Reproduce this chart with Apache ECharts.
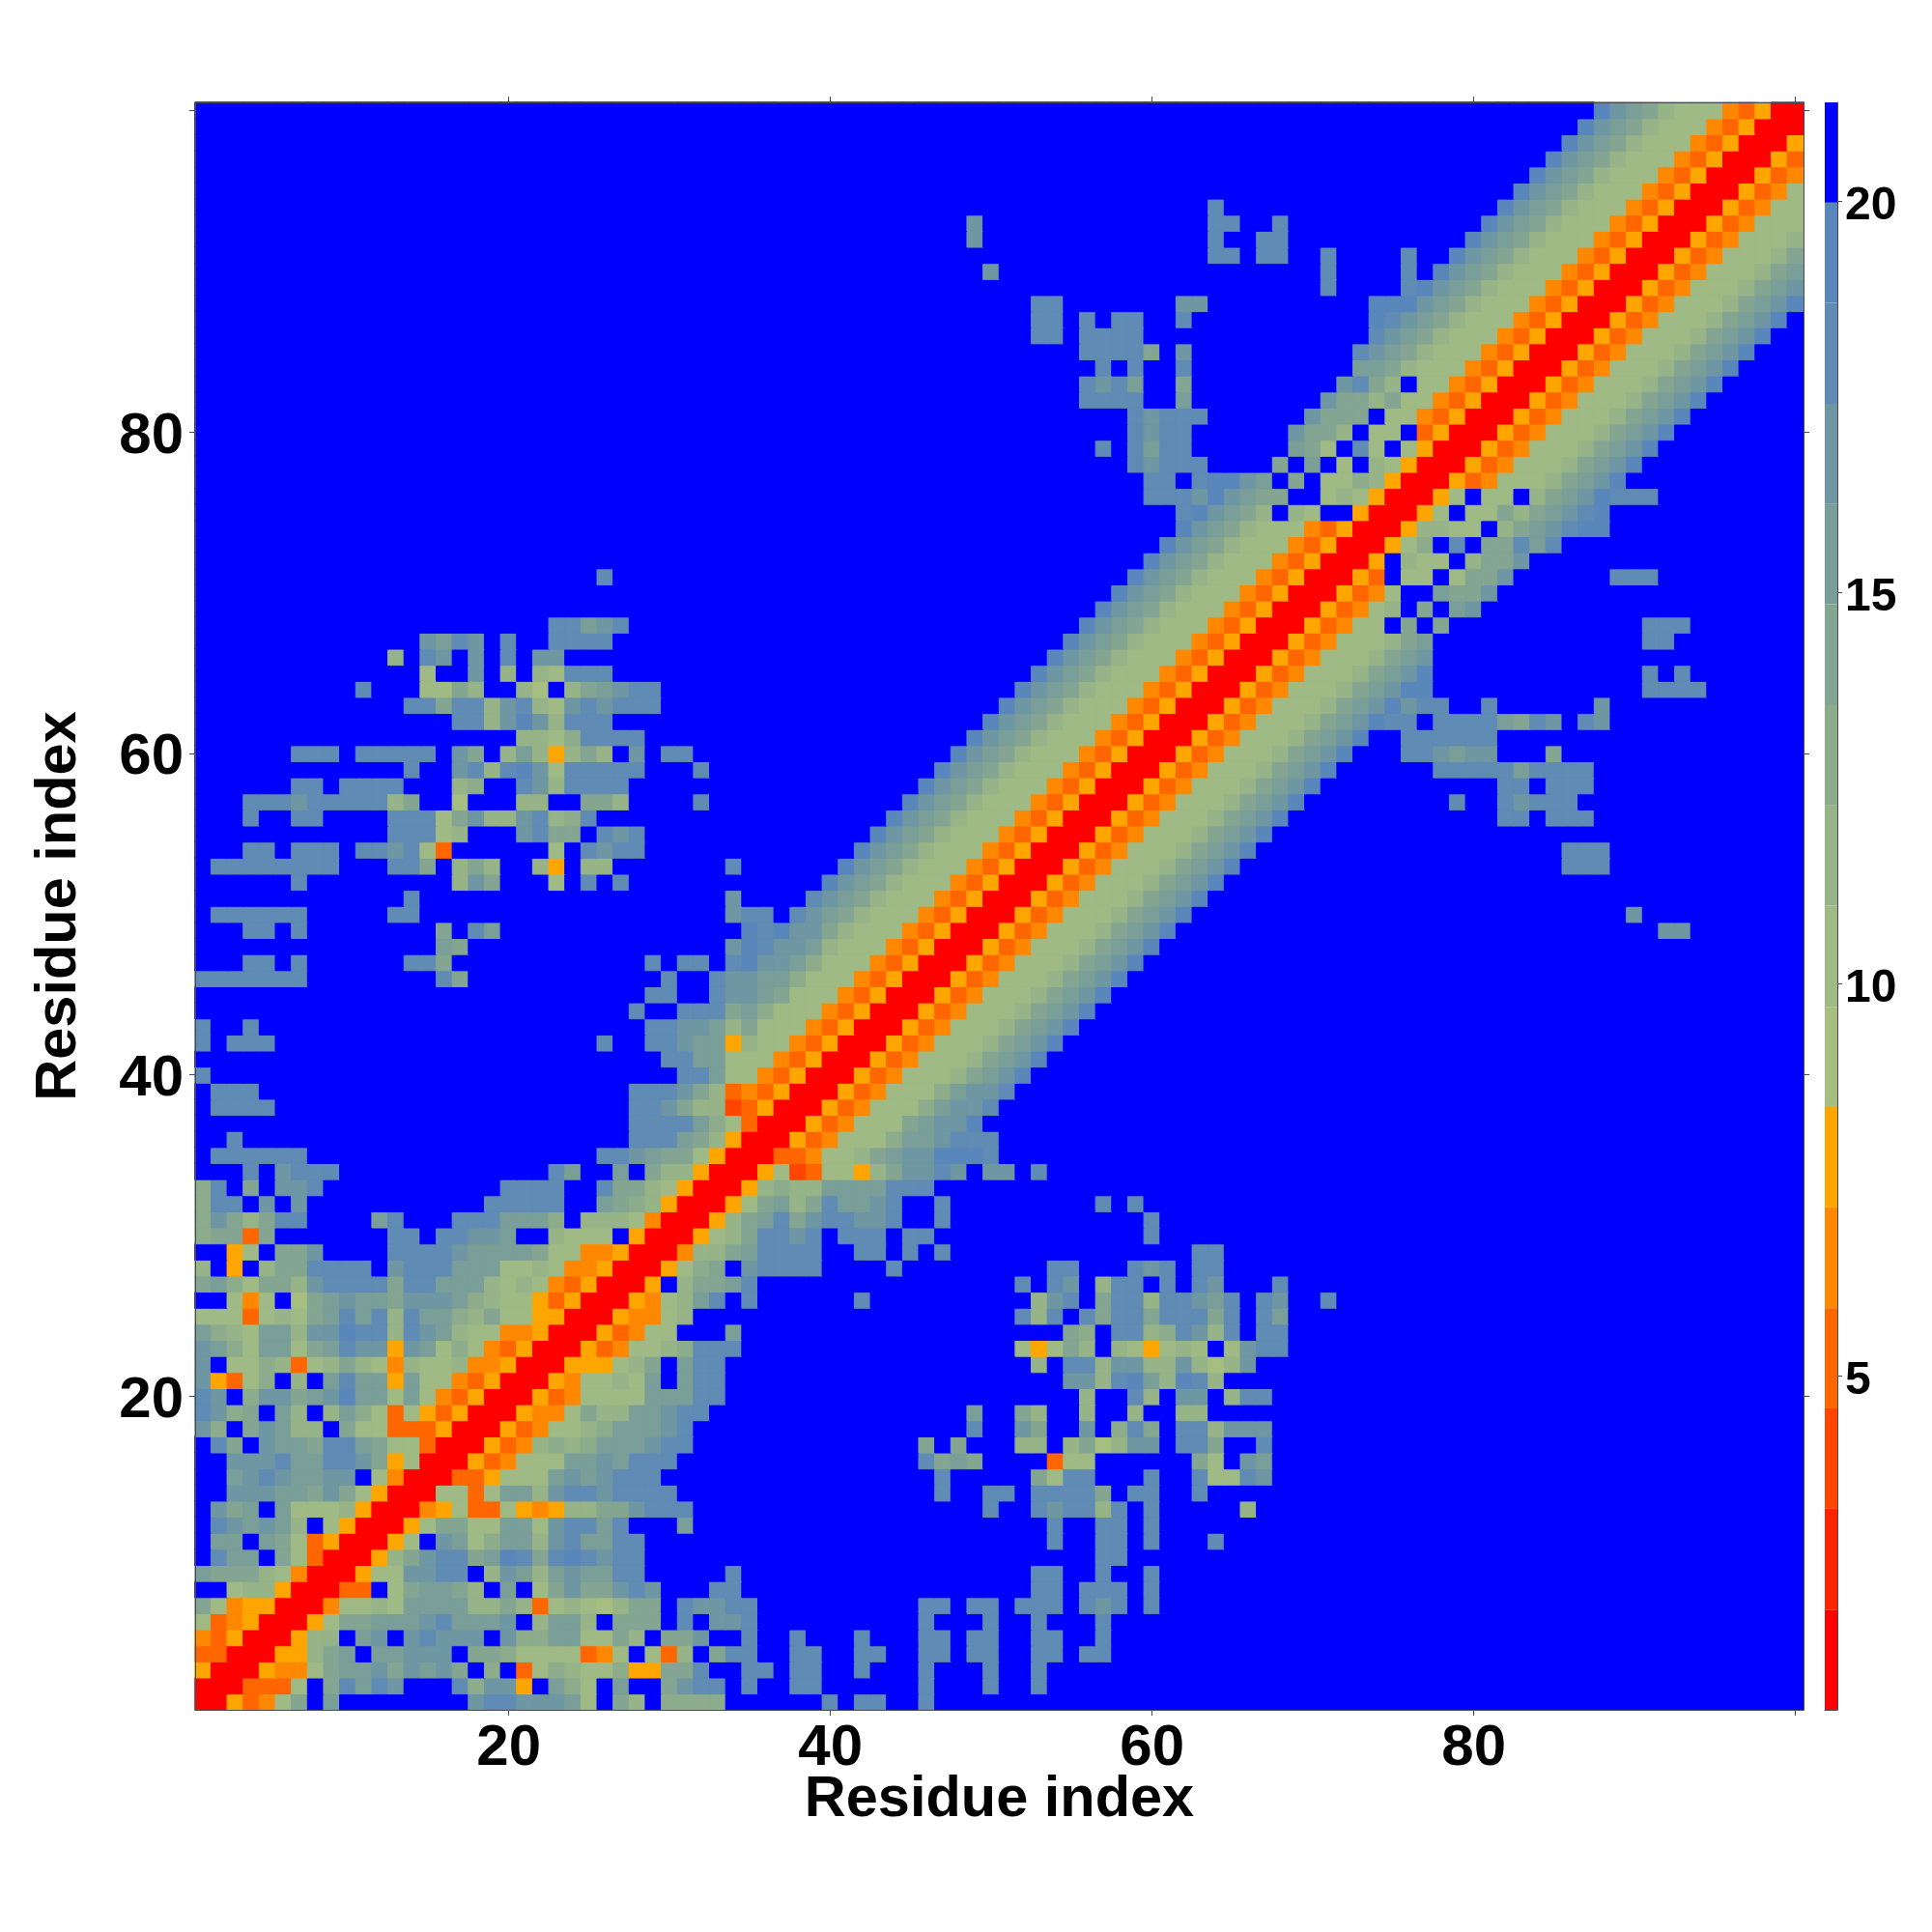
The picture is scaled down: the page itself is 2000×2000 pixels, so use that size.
<!DOCTYPE html>
<html>
<head>
<meta charset="utf-8">
<style>html,body{margin:0;padding:0;background:#fff}#c{width:2000px;height:2000px}</style>
<script src="https://cdn.jsdelivr.net/npm/echarts@6/dist/echarts.min.js"></script>
</head>
<body>
<div id="c"></div>
<script>
// Residue indices on both axes
const residues = Array.from({length: 100}, (_, i) => String(i + 1));
const tickResidues = [20, 40, 60, 80, 100];
const labelResidues = [20, 40, 60, 80];
const barTicks = [5, 10, 15, 20];

// Colour bar: 16 bands, from the bottom
const bandEdges = [0.73, 2.01, 3.30, 4.58, 5.86, 7.15, 8.43, 9.71, 11.0, 12.28, 13.56, 14.85, 16.13, 17.41, 18.70, 19.98, 21.26];
const bandColors = ['#ff0000', '#ff2400', '#ff4500', '#ff6600', '#ff8800', '#ffa500', '#a6bf80', '#9fba84', '#97b388', '#8dac8c', '#83a591', '#7a9e98', '#6e96a3', '#5f8bb4', '#5a87bb', '#0000ff'];
const bandValues = [1.4, 2.7, 3.9, 5.2, 6.5, 7.8, 9.1, 10.4, 11.6, 12.9, 14.2, 15.5, 16.8, 18.1, 19.3, 20.6];

// Symmetric map: one row per y residue, cells with x >= y as "x:levels" runs of band numbers (hex); anything not listed is band f
const mapRows = [
"1:005347afb,18:cddcccb7fa8f9999,40:d,42:dd,46:d",
"2:003337fadbdcfffd9cc5fb97fbffacddfdffdd,46:d,50:d,53:d",
"3:005447abbcacbcaf9f379877955aadffddfdd,42:d,46:d,50:d,53:d",
"4:00558abfbbcccfaa97777347f738fadd,38:dd,42:dd,46:dd,49:dd,53:dd,56:dd",
"5:00588fbcfcdcccfc99bb77a8faacffd,38:d,42:d,46:dd,49:dd,53:dd,57:d",
"6:0057aabbbcdbbbcf8bb8faaafdfccd,46:d,50:d,53:d,57:d",
"7:0047787bbbb88a8378768aafdccdd,46:dd,49:dd,52:ddd,56:dcd,60:d",
"8:0033f7abba8fbf7acaacdcfffdd,53:dd,56:ddd,60:d",
"9:00577ccddf8cb8bcbbdd,34:d,53:dd,57:d,60:d",
"10:0058acddabedadedcdd,57:dd",
"11:0057fcb79bb8cdbbdd,54:d,57:dd,60:d,64:d",
"12:0057aa77bb7cddbdfffb,54:d,57:dd,60:d",
"13:0045733754588aacddd,50:d,53:dcdd8d,60:d,66:8",
"14:007737bb8cddcdddd,47:d,50:dd,53:dddda,59:dd,63:d",
"15:00335777bcbcddd,47:d,53:a7dd,60:d,63:d77dc",
"16:00534777bbcbddd,46:daba,54:377,63:a7,66:cb",
"17:005348989bbbcdd,46:a,48:a,52:88,55:8a68cc,62:dda,67:d",
"18:005347789bbbcd,49:d,52:ca,56:c,58:9da,62:dd8ccc",
"19:005447a88bbcdd,49:b,52:a8,56:8,59:8,62:88",
"20:005347777bbbdd,56:8,59:d8,62:cc,65:8dd",
"21:00547787bfbdd,55:cc8deb8ed8",
"22:0055578afbdd,53:8,55:dd8cc88c868c",
"23:005347789ddd,52:757a8f875787f7cdd",
"24:0053477fffb,55:a9fdd89dc8dfdd",
"25:0054478,52:d8dfdaddadddadfdb",
"26:005478bdfd,42:d,53:8cdfadd8ddcbdfdc,71:d",
"27:005f8aabd,52:d,54:dc,57:8ddfd,63:dc,68:d",
"28:00579afcdddd,44:d,54:dd,59:dcd,63:dd",
"29:00488abdddd,42:dd,45:d,47:d,63:dd",
"30:00578addcdfdddfdd,60:d",
"31:0058abdacddccdffd,60:d",
"32:0057ab8adbbcdffd,57:d,59:d",
"33:0058988bbbbddd",
"34:0057237758accdcfccfd",
"35:00334778abcceeed",
"36:005347779bbcddd",
"37:00534777abcce",
"38:005347779bccd",
"39:005347779bccd",
"40:005347778abce",
"41:005347778abce",
"42:005347778abce",
"43:005347778abce",
"44:005347778abce",
"45:005347778abce",
"46:005347778abce",
"47:005347778abce",
"48:005347778abce",
"49:005347778abce,92:cc",
"50:005347778abce,90:c",
"51:005347778abce",
"52:005347778abce",
"53:005347778abce,86:ddd",
"54:005347778abce,86:ddd",
"55:005347778abce",
"56:005347778abce,82:dd,85:ddd",
"57:005347778abce,79:d,82:dcddd",
"58:005347778abce,82:dd,85:ddd",
"59:005347778abce,78:dddddbdddd",
"60:005347778abce,76:ddcbcc,85:a",
"61:005347778abce,76:dddddd",
"62:005347778abcedd,78:ddddbadc,87:dc",
"63:005347778abcecdd,81:d,88:c",
"64:005347778abcee,91:dddd",
"65:005347778abce,91:d,93:d",
"66:005347778abc",
"67:005347778ab,91:dd",
"68:0053477fafa,91:ddd",
"69:0053478fafbc",
"70:005347ffbaac",
"71:0053f77f7aac,89:ddd",
"72:005f877f8aac",
"73:00579fdfaadbd",
"74:0058877f8abcdee",
"75:0057f77a8abcde",
"76:0057f77f8abceddd",
"77:005347778abce",
"78:005347778abce",
"79:005347778abce",
"80:005347778abce",
"81:005347778abce",
"82:005347778abce",
"83:005347778abce",
"84:005347778abce",
"85:005347778abce",
"86:005347778abce",
"87:005347778abce",
"88:005347778abce",
"89:005347778abc",
"90:005347778ab",
"91:005347778a",
"92:005347778",
"93:00534777",
"94:0053477",
"95:005347",
"96:00534",
"97:0053",
"98:005",
"99:00",
"100:0"
];

const grid = residues.map(() => residues.map(() => 15));
mapRows.forEach((row, yIndex) => {
  row.split(',').forEach(run => {
    const [start, levels] = run.split(':');
    [...levels].forEach((ch, k) => {
      const xIndex = Number(start) - 1 + k;
      grid[yIndex][xIndex] = parseInt(ch, 16);
      grid[xIndex][yIndex] = parseInt(ch, 16);
    });
  });
});
const cells = [];
grid.forEach((row, y) => row.forEach((level, x) => cells.push({
  value: [x, y, bandValues[level]],
  itemStyle: {borderColor: bandColors[level], borderWidth: 1}
})));

const FONT = '"Liberation Sans", Arial, sans-serif';
const LINE = '#4a4a55';
const pick = list => (i, v) => list.includes(Number(v));
const shifted = (size, top) => ({
  formatter: '{a|{value}}',
  rich: {a: {fontFamily: FONT, fontWeight: 'bold', fontSize: size, color: '#000', padding: [top, 0, 0, 0]}}
});
const bigAxis = (position, labels, extra) => Object.assign({
  type: 'category', data: residues, position, gridIndex: 0, z: 5,
  axisLine: {show: true, onZero: false, lineStyle: {color: LINE, width: 1}},
  axisTick: {show: true, alignWithLabel: true, interval: pick(tickResidues), length: 6, lineStyle: {color: LINE, width: 1}},
  axisLabel: labels ? Object.assign({show: true, interval: pick(labelResidues), fontFamily: FONT, fontWeight: 'bold', fontSize: 60, color: '#000'}, labels) : {show: false},
  splitLine: {show: false}, splitArea: {show: false}
}, extra || {});

const barSeries = bandColors.map((color, i) => ({
  type: 'bar', xAxisIndex: 2, yAxisIndex: 2, stack: 'bar', barWidth: '100%', silent: true,
  itemStyle: {color}, data: [bandEdges[i + 1] - (i === 0 ? 0 : bandEdges[i])]
}));

const chart = echarts.init(document.getElementById('c'), null, {renderer: 'canvas'});
chart.setOption({
  animation: false,
  backgroundColor: '#fff',
  grid: [
    {left: 202, top: 106, width: 1665, height: 1664, containLabel: false},
    {left: 1889, top: 106, width: 13, height: 1664, containLabel: false}
  ],
  xAxis: [
    bigAxis('bottom', {margin: 10}, {name: 'Residue index', nameLocation: 'middle', nameGap: 64, nameMoveOverlap: false, nameTextStyle: {fontFamily: FONT, fontWeight: 'bold', fontSize: 59.5, color: '#000'}}),
    bigAxis('top', false),
    {type: 'category', gridIndex: 1, data: ['c'], axisLine: {show: true, lineStyle: {color: LINE}}, axisTick: {show: false}, axisLabel: {show: false}}
  ],
  yAxis: [
    bigAxis('left', Object.assign({margin: 12}, shifted(60, 10)), {name: 'Residue index', nameLocation: 'middle', nameGap: 110, nameMoveOverlap: false, nameRotate: 90, nameTextStyle: {fontFamily: FONT, fontWeight: 'bold', fontSize: 59.5, color: '#000'}}),
    bigAxis('right', false),
    {type: 'value', gridIndex: 1, position: 'right', min: bandEdges[0], max: bandEdges[16],
     axisLine: {show: true, lineStyle: {color: LINE}},
     axisTick: {show: true, customValues: barTicks, length: 5, lineStyle: {color: LINE}},
     axisLabel: Object.assign({show: true, customValues: barTicks, margin: 8}, shifted(48, 11)),
     splitLine: {show: false}}
  ],
  visualMap: {
    type: 'piecewise', show: false, seriesIndex: 0, dimension: 2,
    pieces: bandColors.map((color, i) => ({min: bandEdges[i], max: bandEdges[i + 1], color}))
  },
  series: [
    {type: 'heatmap', xAxisIndex: 0, yAxisIndex: 0, data: cells, silent: true, progressive: 0, emphasis: {disabled: true}},
    ...barSeries
  ]
});
</script>
</body>
</html>
